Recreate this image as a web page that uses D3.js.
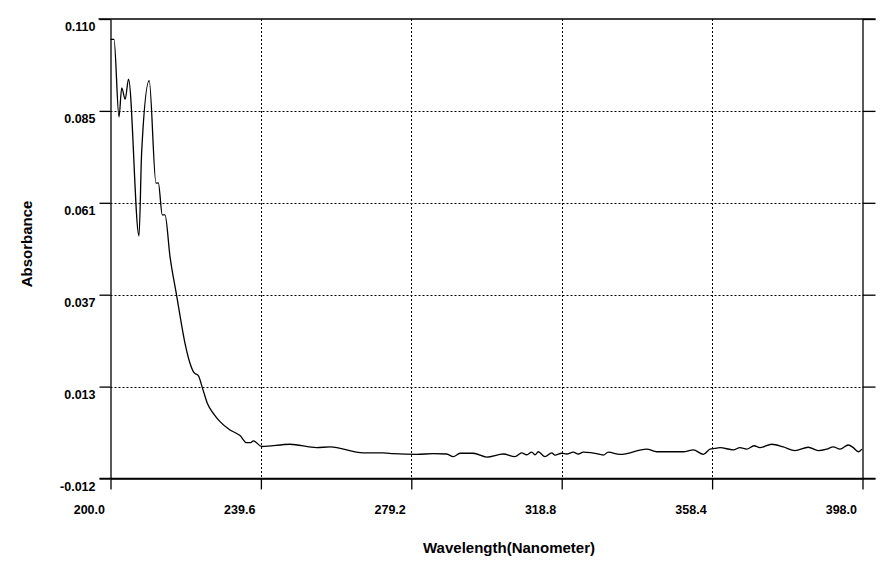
<!DOCTYPE html>
<html>
<head>
<meta charset="utf-8">
<script src="https://cdn.jsdelivr.net/npm/d3@7"></script>
<style>
  html, body { margin: 0; padding: 0; background: #fff; }
  svg { display: block; }
  text { font-family: "Liberation Sans", Arial, sans-serif; font-weight: bold; fill: #000; }
</style>
</head>
<body>
<svg id="chart" width="886" height="573"></svg>
<script>
// ---- data ----
const wavelength = [200.0, 200.92, 202.24, 202.95, 203.87, 204.74, 207.50, 208.21, 210.19, 211.98, 212.59,
  213.64, 214.35, 215.67, 217.43, 219.62, 220.93, 221.99, 223.12, 224.28, 225.49, 227.07, 228.83,
  231.46, 234.10, 235.86, 236.91, 237.60, 239.81, 247.26, 254.29, 257.79, 266.56, 271.83, 274.46,
  280.62, 285.00, 288.52, 290.26, 292.02, 295.53, 299.05, 303.42, 306.50, 308.27, 309.59, 310.90,
  311.77, 312.64, 314.40, 316.17, 317.04, 318.80, 320.12, 321.86, 323.17, 324.49, 328.90, 329.75,
  331.07, 334.15, 341.18, 343.82, 350.82, 353.46, 356.09, 357.85, 359.17, 360.48, 363.98, 365.75,
  367.51, 369.43, 371.01, 374.09, 377.15, 380.23, 383.73, 386.37, 388.58, 390.32, 392.08, 394.27,
  395.58, 396.90, 397.87];
const absorbance = [0.1046, 0.1046, 0.0840, 0.0917, 0.0887, 0.0940, 0.0524, 0.0748, 0.0936, 0.0664, 0.0665,
  0.0580, 0.0580, 0.0469, 0.0365, 0.0239, 0.0186, 0.0161, 0.0153, 0.0118, 0.0080, 0.0053, 0.0031,
  0.0009, -0.0006, -0.0025, -0.0025, -0.0020, -0.0035, -0.0029, -0.0038, -0.0036, -0.0052, -0.0052, -0.0054,
  -0.0056, -0.0054, -0.0055, -0.0062, -0.0053, -0.0053, -0.0063, -0.0055, -0.0062, -0.0052, -0.0057, -0.0050,
  -0.0057, -0.0049, -0.0062, -0.0052, -0.0058, -0.0053, -0.0055, -0.0050, -0.0055, -0.0050, -0.0056, -0.0058,
  -0.0050, -0.0056, -0.0042, -0.0049, -0.0049, -0.0044, -0.0056, -0.0042, -0.0040, -0.0038, -0.0044, -0.0038,
  -0.0042, -0.0033, -0.0038, -0.0029, -0.0036, -0.0046, -0.0037, -0.0046, -0.0042, -0.0036, -0.0042, -0.0031,
  -0.0038, -0.0049, -0.0042];

const xTickValues = [200.0, 239.6, 279.2, 318.8, 358.4, 398.0];
const xTickLabels = ["200.0", "239.6", "279.2", "318.8", "358.4", "398.0"];
const yTickValues = [-0.012, 0.0124, 0.0368, 0.0612, 0.0856, 0.110];
const yTickLabels = ["-0.012", "0.013", "0.037", "0.061", "0.085", "0.110"];
const xTitle = "Wavelength(Nanometer)";
const yTitle = "Absorbance";

// ---- layout ----
const svg = d3.select("#chart");
const x = d3.scaleLinear().domain([200.0, 398.0]).range([110.5, 862.5]);
const y = d3.scaleLinear().domain([-0.012, 0.110]).range([478.5, 19]);
const [x0, x1] = x.range();
const [y0, y1] = y.range();

// grid lines
const grid = svg.append("g").attr("stroke", "#000").attr("stroke-width", 1).attr("stroke-dasharray", "2,2");
grid.selectAll("line.v").data(xTickValues.slice(1, -1)).join("line").attr("class", "v")
  .attr("x1", d => Math.round(x(d)) + 0.5).attr("x2", d => Math.round(x(d)) + 0.5)
  .attr("y1", y1).attr("y2", y0);
grid.selectAll("line.h").data(yTickValues.slice(1, -1)).join("line").attr("class", "h")
  .attr("y1", d => Math.round(y(d)) + 0.5).attr("y2", d => Math.round(y(d)) + 0.5)
  .attr("x1", x0).attr("x2", x1);

// axes
const styleAxis = g => {
  g.select(".domain").attr("stroke", "#000").attr("stroke-width", 1.3);
  g.selectAll(".tick line").attr("stroke", "#000").attr("stroke-width", 1.3);
  g.selectAll(".tick text").style("font-size", "12.5px").attr("fill", "#000");
};

const yAxisL = svg.append("g").attr("transform", `translate(${x0},0)`)
  .call(d3.axisLeft(y).tickValues(yTickValues).tickSize(11).tickSizeOuter(0).tickPadding(4)
    .tickFormat((d, i) => yTickLabels[i]));
styleAxis(yAxisL);
yAxisL.selectAll(".tick text").attr("y", 7.5);

const yAxisR = svg.append("g").attr("transform", `translate(${x1},0)`)
  .call(d3.axisRight(y).tickValues(yTickValues).tickSize(13).tickSizeOuter(0).tickFormat(""));
styleAxis(yAxisR);

const xAxis = svg.append("g").attr("transform", `translate(0,${y0})`)
  .call(d3.axisBottom(x).tickValues(xTickValues).tickSize(11).tickSizeOuter(0)
    .tickFormat((d, i) => xTickLabels[i]));
styleAxis(xAxis);
xAxis.selectAll(".tick text").attr("text-anchor", "end").attr("x", -6).attr("y", 35).attr("dy", 0);

// top frame line
svg.append("line").attr("x1", x0 - 12).attr("x2", x1 + 13).attr("y1", y1).attr("y2", y1)
  .attr("stroke", "#000").attr("stroke-width", 1.3);
// extend bottom line left/right
svg.append("line").attr("x1", x0 - 11).attr("x2", x1 + 13).attr("y1", y0).attr("y2", y0)
  .attr("stroke", "#000").attr("stroke-width", 1.3);

// data line
const line = d3.line().curve(d3.curveMonotoneX)
  .x((d, i) => x(wavelength[i])).y((d, i) => y(absorbance[i]));
svg.append("path").datum(wavelength).attr("d", line)
  .attr("fill", "none").attr("stroke", "#000").attr("stroke-width", 1.3).attr("stroke-linejoin", "round");

// titles
svg.append("text").attr("x", 509).attr("y", 553).attr("text-anchor", "middle")
  .style("font-size", "15px").text(xTitle);
svg.append("text").attr("transform", "translate(32,244) rotate(-90)").attr("text-anchor", "middle")
  .style("font-size", "15px").text(yTitle);
</script>
</body>
</html>
